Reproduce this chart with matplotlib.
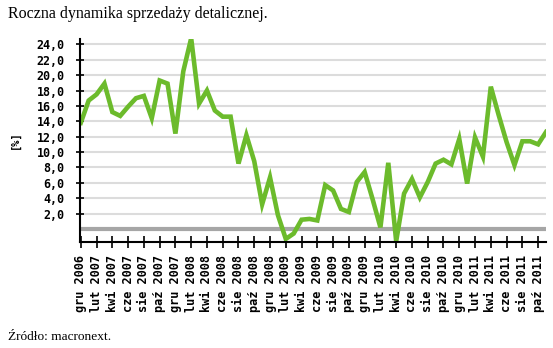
import matplotlib
matplotlib.use("Agg")
from matplotlib import pyplot as plt

# roczna dynamika sprzedazy detalicznej, miesiecznie gru 2006 - lis 2011 [%]
months = ['gru', 'sty', 'lut', 'mar', 'kwi', 'maj', 'cze', 'lip', 'sie', 'wrz', 'paź', 'lis']
start_year = 2006
values = [13.8, 16.7, 17.5, 18.9, 15.2, 14.7, 15.9, 17.0, 17.3, 14.4, 19.3, 18.9,
          12.4, 20.5, 24.8, 16.3, 18.0, 15.4, 14.6, 14.6, 8.5, 12.2, 8.8, 3.2,
          6.7, 1.8, -1.3, -0.6, 1.2, 1.3, 1.1, 5.7, 5.0, 2.6, 2.2, 6.1,
          7.4, 3.9, 0.2, 8.6, -1.6, 4.6, 6.5, 4.1, 6.1, 8.5, 9.0, 8.4,
          11.7, 5.9, 11.9, 9.4, 18.5, 14.8, 11.3, 8.3, 11.4, 11.4, 11.0, 12.6]
y_ticks = list(range(2, 25, 2))

# etykiety osi x co dwa miesiace
x = list(range(len(values)))
tick_pos = x[::2][:30]
tick_labels = []
for i in tick_pos:
    m = months[i % 12]
    year = start_year + (i + 11) // 12
    tick_labels.append(m + ' ' + str(year))

fig = plt.figure(figsize=(5.53, 3.48), dpi=100)
ax = fig.add_axes([80 / 553, 1 - 242 / 348, 466 / 553, 203 / 348])

for v in y_ticks:
    ax.axhline(v, color='#dcdcdc', lw=1.5, zorder=1)
ax.axhline(0, color='#a6a6a6', lw=3, zorder=1)

ax.plot(x, values, color='#6cbb2c', lw=3.3, zorder=3, solid_joinstyle='miter')

ax.set_xlim(-0.1, 59)
ax.set_ylim(-1.7, 24.7)

ax.set_yticks(y_ticks)
ax.set_yticklabels(['%d,0' % v for v in y_ticks], family='DejaVu Sans Mono',
                   fontweight='bold', fontsize=8.4)
ax.set_xticks(tick_pos)
ax.set_xticklabels(tick_labels, rotation=90, family='DejaVu Sans Mono',
                   fontweight='bold', fontsize=8.6)

ax.tick_params(axis='y', direction='inout', length=6, width=1.2, pad=8)
ax.tick_params(axis='x', direction='inout', length=8, width=1.2, pad=5)

for s in ['top', 'right']:
    ax.spines[s].set_visible(False)
for s in ['left', 'bottom']:
    ax.spines[s].set_linewidth(1.5)
    ax.spines[s].set_zorder(4)

fig.text(15 / 553, 1 - 140 / 348, '[%]', rotation=90, ha='center', va='center',
         family='DejaVu Sans Mono', fontweight='bold', fontsize=7.5)

fig.text(8 / 553, 1 - 18 / 348, 'Roczna dynamika sprzedaży detalicznej.',
         family='Liberation Serif', fontsize=11.5, ha='left', va='baseline')
fig.text(8 / 553, 1 - 340 / 348, 'Źródło: macronext.',
         family='Liberation Serif', fontsize=9.6, ha='left', va='baseline')

fig.savefig('out.png', dpi=100)
